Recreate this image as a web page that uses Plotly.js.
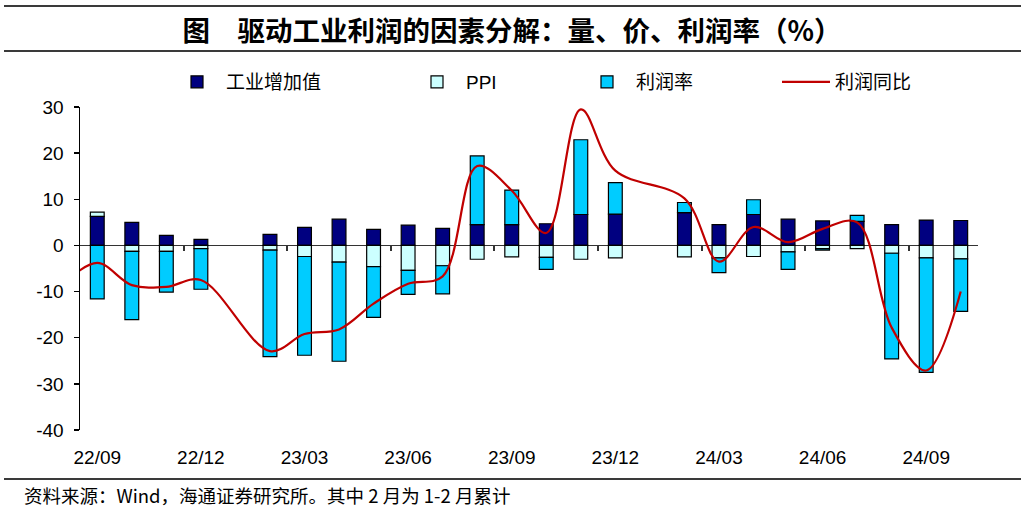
<!DOCTYPE html>
<html>
<head>
<meta charset="utf-8">
<script src="https://cdn.plot.ly/plotly-3.0.1.min.js"></script>
<style>html,body{margin:0;padding:0;background:#fff;}#chart{width:1024px;height:511px;}</style>
</head>
<body>
<div id="chart"></div>
<script>
// Months (22/08 is only used by the line, clipped at the left edge)
const months = ['22/08','22/09','22/10','22/11','22/12','23/01','23/02','23/03','23/04','23/05','23/06','23/07','23/08','23/09','23/10','23/11','23/12','24/01','24/02','24/03','24/04','24/05','24/06','24/07','24/08','24/09','24/10'];
// 工业增加值 (volume)
const industrialVA = [null,6.3,5.0,2.2,1.3,null,2.4,3.9,5.7,3.5,4.4,3.7,4.5,4.5,4.7,6.7,6.8,null,7.1,4.5,6.7,5.7,5.3,5.2,4.5,5.5,5.4];
// PPI (price)
const ppi = [null,0.9,-1.3,-1.3,-0.7,null,-1.0,-2.4,-3.6,-4.6,-5.4,-4.4,-3.0,-2.5,-2.6,-3.0,-2.7,null,-2.5,-2.7,-2.4,-1.4,-0.7,-0.7,-1.7,-2.7,-2.9];
// 利润率 (margin)
const margin = [null,-11.6,-14.8,-8.8,-8.8,null,-23.1,-21.4,-21.5,-11.0,-5.2,-6.1,14.9,7.5,-2.6,16.2,6.8,null,2.2,-3.2,3.2,-3.8,-0.3,1.3,-22.9,-24.8,-11.4];
// 利润同比 (profit yoy)
const profitYoY = [-8.5,-3.8,-8.6,-9.0,-7.5,null,-22.9,-19.2,-18.2,-12.6,-8.3,-6.7,17.2,11.9,2.7,29.5,16.2,null,10.2,-3.5,4.0,0.7,3.6,5.0,-17.8,-27.1,-10.0];
// y tick labels
const yTickVals = [30,20,10,0,-10,-20,-30,-40];
const yTickText = ['30','20','10','0','-10','-20','-30','-40'];
// x tick labels every 3 months starting 22/09
const tickIdx = [];
for (let i = 1; i < months.length; i += 3) tickIdx.push(i);
const tickText = tickIdx.map(i => months[i]);
const boundaryTicks = tickIdx.slice(1).map(i => i - 0.5);

const xIdx = months.map((m, i) => i);

// layout geometry (pixels)
const W = 1024, H = 511, L = 80, R = 46, T = 107, B = 81;
const pw = W - L - R, ph = H - T - B;
const px2x = p => (p - L) / pw;
const py2y = p => (H - B - p) / ph;

const latin = 'Liberation Sans, Arial, Noto Sans CJK SC, sans-serif';
const cjk = 'Noto Sans CJK SC, Liberation Sans, sans-serif';
const outline = {color: '#000', width: 1.2};

const traces = [
  {type: 'bar', name: '工业增加值', legend: 'legend', x: xIdx, y: industrialVA, marker: {color: '#000080', line: outline}},
  {type: 'bar', name: 'PPI', legend: 'legend2', x: xIdx, y: ppi, marker: {color: '#CCFFFF', line: outline}},
  {type: 'bar', name: '利润率', legend: 'legend3', x: xIdx, y: margin, marker: {color: '#00CCFF', line: outline}},
  {type: 'scatter', mode: 'lines', name: '利润同比', legend: 'legend4', x: xIdx, y: profitYoY, connectgaps: true,
   line: {color: '#C00000', width: 2.2, shape: 'spline', smoothing: 1}},
  {type: 'scatter', mode: 'lines', x: [], y: [], xaxis: 'x2', yaxis: 'y', showlegend: false, hoverinfo: 'skip'}
];

const hline = (y) => ({type: 'line', xref: 'paper', yref: 'paper', x0: px2x(4), x1: px2x(1021), y0: py2y(y), y1: py2y(y), line: {color: '#3a3a3a', width: 2.2}});
const leg = (pxLeft) => ({orientation: 'h', x: px2x(pxLeft), xanchor: 'left', y: py2y(82), yanchor: 'middle',
  font: {family: latin, size: 19, color: '#000'}, itemwidth: 48, bgcolor: 'rgba(0,0,0,0)'});

const layout = {
  width: W, height: H,
  margin: {l: L, r: R, t: T, b: B},
  paper_bgcolor: '#fff', plot_bgcolor: '#fff',
  barmode: 'relative', bargap: 0.6,
  showlegend: true,
  title: {text: '<b>图　驱动工业利润的因素分解：量、价、利润率（%）</b>', x: 0.5, xref: 'container', xanchor: 'center',
          y: 1 - 31 / H, yref: 'container', yanchor: 'middle', font: {family: cjk, size: 27.5, color: '#000'}},
  legend: leg(168),
  legend2: leg(408),
  legend3: leg(578),
  legend4: leg(777),
  xaxis: {range: [0.5, months.length - 0.5], tickmode: 'array', tickvals: tickIdx, ticktext: tickText,
          showline: false, showgrid: false, zeroline: false, ticks: '', ticklabelstandoff: 14,
          tickfont: {family: latin, size: 19, color: '#000'}},
  xaxis2: {overlaying: 'x', matches: 'x', anchor: 'free', position: 40 / 70, side: 'bottom',
           tickmode: 'array', tickvals: boundaryTicks, ticks: 'outside', ticklen: 5, tickwidth: 2,
           tickcolor: '#333', showticklabels: false, showline: false, showgrid: false, zeroline: false},
  yaxis: {range: [-40, 30], tickmode: 'array', tickvals: yTickVals, ticktext: yTickText, showline: true, linecolor: '#000', linewidth: 1.5,
          ticks: 'outside', ticklen: 5, tickwidth: 1.5, tickcolor: '#000', showgrid: false,
          zeroline: true, zerolinecolor: '#333', zerolinewidth: 1.8, ticklabelstandoff: 6,
          tickfont: {family: latin, size: 19, color: '#000'}},
  shapes: [hline(6), hline(51), hline(479)],
  annotations: [
    {text: '资料来源：Wind，海通证券研究所。其中 2 月为 1-2 月累计', xref: 'paper', yref: 'paper',
     x: px2x(22), xanchor: 'left', y: py2y(495), yanchor: 'middle', showarrow: false,
     font: {family: cjk, size: 18.5, color: '#000'}}
  ]
};

Plotly.newPlot('chart', traces, layout, {displayModeBar: false, staticPlot: true});
</script>
</body>
</html>
